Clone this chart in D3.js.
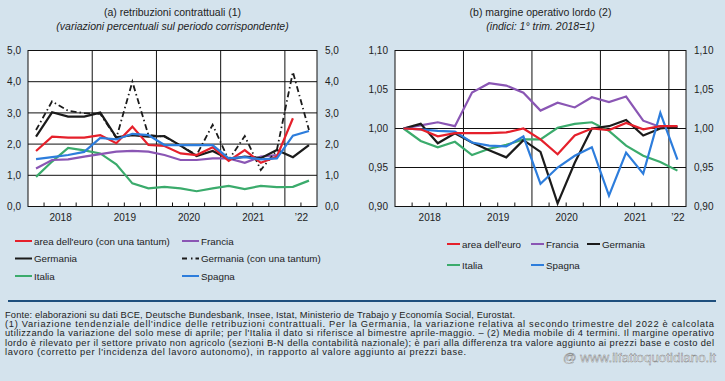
<!DOCTYPE html>
<html>
<head>
<meta charset="utf-8">
<script src="https://cdn.jsdelivr.net/npm/d3@7"></script>
<style>
body { margin: 0; background: #d4e3ed; }
svg { display: block; font-family: "Liberation Sans", Arial, sans-serif; }
</style>
</head>
<body>
<svg id="chart" width="725" height="381"></svg>
<script>
// quarters, 2018 T1 .. 2022 T2
var quartersA = ["2018T1", "2018T2", "2018T3", "2018T4", "2019T1", "2019T2", "2019T3", "2019T4",
    "2020T1", "2020T2", "2020T3", "2020T4", "2021T1", "2021T2", "2021T3", "2021T4", "2022T1", "2022T2"];
var quartersB = quartersA.slice(0, 17);
var yearLabels = ["2018", "2019", "2020", "2021", "\u201922"];
var yTicksA = [0, 1, 2, 3, 4, 5];
var yTicksB = [0.90, 0.95, 1.00, 1.05, 1.10];

// (a) retribuzioni contrattuali
var euroA = [1.78, 2.24, 2.21, 2.21, 2.29, 2.03, 2.56, 1.97, 1.94, 1.70, 1.65, 1.90, 1.46, 1.81, 1.40, 1.60, 2.83, null];
var franciaA = [1.22, 1.49, 1.51, 1.60, 1.68, 1.76, 1.78, 1.76, 1.65, 1.49, 1.49, 1.54, 1.54, 1.40, 1.60, 1.65, null, null];
var germaniaA = [2.24, 3.02, 2.88, 2.88, 3.01, 2.22, 2.29, 2.24, 2.26, 1.95, 1.62, 1.78, 1.52, 1.60, 1.55, 1.81, 1.58, 1.97];
var germaniaTantumA = [2.45, 3.37, 3.07, 2.99, 2.97, 2.19, 4.00, 2.29, 2.24, 1.95, 1.65, 2.62, 1.49, 2.26, 1.17, 1.81, 4.31, 2.45];
var italiaA = [0.95, 1.44, 1.88, 1.80, 1.70, 1.35, 0.74, 0.58, 0.63, 0.58, 0.49, 0.58, 0.66, 0.56, 0.66, 0.62, 0.63, 0.83];
var spagnaA = [1.52, 1.58, 1.65, 1.75, 2.20, 2.15, 2.33, 2.29, 1.97, 1.97, 1.97, 1.97, 1.54, 1.58, 1.51, 1.54, 2.27, 2.42];

// (b) margine operativo lordo
var euroB = [1.000, 0.999, 0.990, 0.994, 0.994, 0.994, 0.995, 1.000, 0.986, 0.967, 0.991, 1.000, 0.998, 1.007, 0.999, 1.003, 1.003];
var franciaB = [1.000, 1.004, 1.008, 1.003, 1.046, 1.058, 1.055, 1.046, 1.023, 1.033, 1.027, 1.040, 1.034, 1.041, 1.010, 1.002, 1.002];
var germaniaB = [1.000, 1.006, 0.981, 0.994, 0.982, 0.972, 0.963, 0.985, 0.970, 0.904, 0.956, 1.000, 1.003, 1.011, 0.991, 1.000, 1.002];
var italiaB = [1.000, 0.984, 0.976, 0.983, 0.966, 0.974, 0.979, 0.986, 0.986, 1.001, 1.006, 1.008, 0.997, 0.978, 0.965, 0.957, 0.946];
var spagnaB = [1.000, 0.999, 0.997, 0.996, 0.982, 0.978, 0.977, 0.990, 0.929, 0.950, 0.965, 0.976, 0.914, 0.969, 0.942, 1.020, 0.960];

var footLines = [
    "Fonte: elaborazioni su dati BCE, Deutsche Bundesbank, Insee, Istat, Ministerio de Trabajo y Economía Social, Eurostat.",
    "(1) Variazione tendenziale dell'indice delle retribuzioni contrattuali. Per la Germania, la variazione relativa al secondo trimestre del 2022 è calcolata",
    "utilizzando la variazione del solo mese di aprile; per l'Italia il dato si riferisce al bimestre aprile-maggio. – (2) Media mobile di 4 termini. Il margine operativo",
    "lordo è rilevato per il settore privato non agricolo (sezioni B-N della contabilità nazionale); è pari alla differenza tra valore aggiunto ai prezzi base e costo del",
    "lavoro (corretto per l'incidenza del lavoro autonomo), in rapporto al valore aggiunto ai prezzi base."
];

var red = "#e5202b", purple = "#8a56b4", black = "#1b1b1b", green = "#3bab6c", blue = "#2d7ddc";
var dashdot = "6,3,1.5,3";

var it = d3.formatLocale({ decimal: ",", thousands: ".", grouping: [3], currency: ["", "€"] });
var svg = d3.select("#chart");

function draw_panel(p) {
    var n = p.quarters.length,
        x = d3.scaleLinear().domain([0, n]).range([p.left, p.right]),
        y = d3.scaleLinear().domain(d3.extent(p.yTicks)).range([206.5, 50.5]),
        g = svg.append("g");

    g.append("rect")
        .attr("x", p.left).attr("y", y.range()[1])
        .attr("width", p.right - p.left).attr("height", y.range()[0] - y.range()[1])
        .attr("fill", "#fff");

    // horizontal grid
    g.selectAll("line.h").data(p.yTicks).enter().append("line")
        .attr("x1", p.left).attr("x2", p.right)
        .attr("y1", function(d) { return y(d); }).attr("y2", function(d) { return y(d); })
        .attr("stroke", "#111").attr("stroke-width", 1);

    // year lines and quarter ticks
    var q = d3.range(1, n);
    g.selectAll("line.v").data(q).enter().append("line")
        .attr("x1", function(d) { return x(d); }).attr("x2", function(d) { return x(d); })
        .attr("y1", function(d) { return d % 4 == 0 ? y.range()[1] : y.range()[0] - 4; })
        .attr("y2", y.range()[0])
        .attr("stroke", "#111").attr("stroke-width", 1);

    g.append("rect")
        .attr("x", p.left).attr("y", y.range()[1])
        .attr("width", p.right - p.left).attr("height", y.range()[0] - y.range()[1])
        .attr("fill", "none").attr("stroke", "#111").attr("stroke-width", 1);

    var fmt = it.format(p.fmt);
    var yl = d3.axisLeft(y).tickValues(p.yTicks).tickSize(0).tickPadding(7).tickFormat(fmt);
    var yr = d3.axisRight(y).tickValues(p.yTicks).tickSize(0).tickPadding(8).tickFormat(fmt);
    g.append("g").attr("transform", "translate(" + p.left + ",0)").call(yl);
    g.append("g").attr("transform", "translate(" + p.right + ",0)").call(yr);

    var yearPos = yearLabels.map(function(d, i) { return (4 * i + Math.min(4 * i + 4, n)) / 2; });
    var xa = d3.axisBottom(x).tickValues(yearPos).tickSize(0).tickPadding(7)
        .tickFormat(function(d, i) { return yearLabels[i]; });
    g.append("g").attr("transform", "translate(0," + y.range()[0] + ")").call(xa);

    g.selectAll(".domain").remove();
    g.selectAll(".tick text").attr("fill", "#222").attr("font-size", "10px")
        .attr("font-family", "Liberation Sans, Arial, sans-serif");

    var line = d3.line()
        .defined(function(d) { return d != null; })
        .x(function(d, i) { return x(i + 0.5); })
        .y(function(d) { return y(d); });

    p.series.forEach(function(s) {
        g.append("path")
            .datum(s.values)
            .attr("d", line)
            .attr("fill", "none")
            .attr("stroke", s.color)
            .attr("stroke-width", s.dash ? 1.8 : 2.2)
            .attr("stroke-dasharray", s.dash || null)
            .attr("stroke-linejoin", "miter");
    });

    var cx = (p.left + p.right) / 2;
    g.append("text").attr("x", cx).attr("y", 16).attr("text-anchor", "middle")
        .attr("font-size", "10.5px").attr("fill", "#222").text(p.title);
    g.append("text").attr("x", cx).attr("y", 30).attr("text-anchor", "middle")
        .attr("font-size", "10.5px").attr("font-style", "italic").attr("fill", "#222").text(p.subtitle);

    // legend
    var lg = g.selectAll("g.leg").data(p.legend).enter().append("g")
        .attr("transform", function(d) { return "translate(" + d.x + "," + d.y + ")"; });
    lg.append("line")
        .attr("x1", 0).attr("x2", p.swatch).attr("y1", 0).attr("y2", 0)
        .attr("stroke", function(d) { return d.s.color; })
        .attr("stroke-width", 2)
        .attr("stroke-dasharray", function(d) { return d.s.dash ? "5,4,1.5,3" : null; });
    lg.append("text")
        .attr("x", p.swatch + 2).attr("y", 3.5)
        .attr("font-size", "9.8px").attr("fill", "#222")
        .text(function(d) { return d.s.name; });
}

var sA = {
    euro: { name: "area dell'euro (con una tantum)", values: euroA, color: red },
    francia: { name: "Francia", values: franciaA, color: purple },
    italia: { name: "Italia", values: italiaA, color: green },
    spagna: { name: "Spagna", values: spagnaA, color: blue },
    germania: { name: "Germania", values: germaniaA, color: black },
    tantum: { name: "Germania (con una tantum)", values: germaniaTantumA, color: black, dash: dashdot }
};
draw_panel({
    quarters: quartersA, left: 28, right: 317, yTicks: yTicksA, fmt: ".1f",
    title: "(a) retribuzioni contrattuali (1)",
    subtitle: "(variazioni percentuali sul periodo corrispondente)",
    series: [sA.italia, sA.francia, sA.tantum, sA.germania, sA.euro, sA.spagna],
    swatch: 17,
    legend: [
        { s: sA.euro, x: 15, y: 241 }, { s: sA.francia, x: 182, y: 241 },
        { s: sA.germania, x: 15, y: 258.5 }, { s: sA.tantum, x: 182, y: 258.5 },
        { s: sA.italia, x: 15, y: 276 }, { s: sA.spagna, x: 182, y: 276 }
    ]
});

var sB = {
    euro: { name: "area dell'euro", values: euroB, color: red },
    francia: { name: "Francia", values: franciaB, color: purple },
    germania: { name: "Germania", values: germaniaB, color: black },
    italia: { name: "Italia", values: italiaB, color: green },
    spagna: { name: "Spagna", values: spagnaB, color: blue }
};
draw_panel({
    quarters: quartersB, left: 395, right: 686, yTicks: yTicksB, fmt: ".2f",
    title: "(b) margine operativo lordo (2)",
    subtitle: "(indici: 1° trim. 2018=1)",
    series: [sB.francia, sB.italia, sB.germania, sB.spagna, sB.euro],
    swatch: 13,
    legend: [
        { s: sB.euro, x: 447, y: 244 }, { s: sB.francia, x: 531, y: 244 }, { s: sB.germania, x: 587, y: 244 },
        { s: sB.italia, x: 447, y: 265 }, { s: sB.spagna, x: 531, y: 265 }
    ]
});

// footer
svg.append("line").attr("x1", 8).attr("x2", 716).attr("y1", 301).attr("y2", 301)
    .attr("stroke", "#1e4f7d").attr("stroke-width", 2);

var footWidths = [510, 709, 709, 709, 461];
svg.selectAll("text.foot").data(footLines).enter().append("text")
    .attr("x", 5)
    .attr("y", function(d, i) { return 317.5 + i * 9.45; })
    .attr("font-size", "9.3px").attr("fill", "#222")
    .attr("textLength", function(d, i) { return footWidths[i]; })
    .attr("lengthAdjust", "spacing")
    .text(function(d) { return d; });

svg.append("text").attr("x", 563).attr("y", 362)
    .attr("font-size", "12px").attr("fill", "#f7fafc").attr("stroke", "#7a7a7a").attr("stroke-width", 0.4)
    .attr("textLength", 153).attr("lengthAdjust", "spacingAndGlyphs")
    .text("@ www.ilfattoquotidiano.it");
</script>
</body>
</html>
